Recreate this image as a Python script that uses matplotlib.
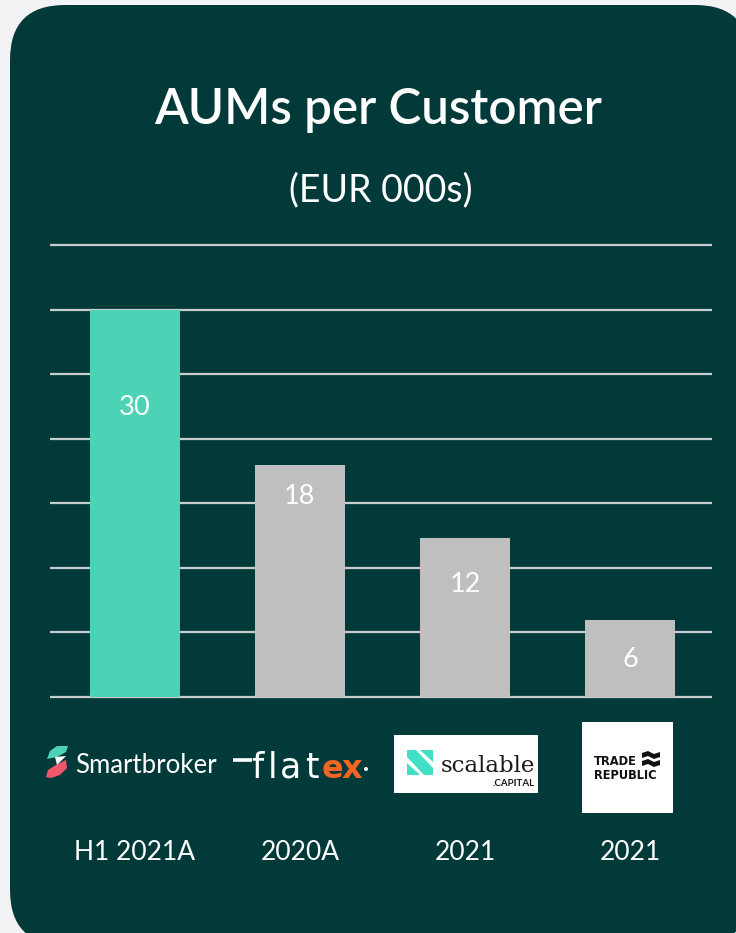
import matplotlib
matplotlib.use("Agg")
import matplotlib.pyplot as plt
from matplotlib.patches import FancyBboxPatch, Polygon, Rectangle, Circle

# ---- data ----
brokers = ["Smartbroker", "flatex", "Scalable Capital", "Trade Republic"]
periods = ["H1 2021A", "2020A", "2021", "2021"]
aum_per_customer = [30, 18, 12.3, 6]
value_labels = ["30", "18", "12", "6"]
grid_ticks = [0, 5, 10, 15, 20, 25, 30, 35]

# ---- style ----
BG_OUT = "#f3f3f5"
BG = "#023a3a"
TEAL = "#4cd3b5"
GREY = "#bfbfbf"
GRID = "#c9cccc"
bar_colors = [TEAL, GREY, GREY, GREY]
label_offsets_px = [98, 32, 46, 40]
FONT = "Lato"

W, H = 736, 933
fig = plt.figure(figsize=(W / 100, H / 100), dpi=100, facecolor=BG_OUT)

# background / decoration axes in pixel coordinates
bg = fig.add_axes([0, 0, 1, 1], zorder=0)
bg.set_xlim(0, W)
bg.set_ylim(H, 0)
bg.axis("off")
bg.add_patch(FancyBboxPatch((10, 5), 740, 940,
                            boxstyle="round,pad=0,rounding_size=55",
                            facecolor=BG, edgecolor="none"))

bg.text(378, 124, "AUMs per Customer", ha="center", va="baseline",
        fontsize=35.5, color="white", family=FONT, weight="semibold")
bg.text(381, 201, "(EUR 000s)", ha="center", va="baseline",
        fontsize=27, color="white", family=FONT, weight="normal")

# chart axes
left, right, top, bottom = 50, 712, 245, 697
ax = fig.add_axes([left / W, 1 - bottom / H, (right - left) / W, (bottom - top) / H],
                  zorder=1)
ax.patch.set_alpha(0)
x = list(range(len(aum_per_customer)))
ax.set_xlim(-0.515, 3.497)
ax.set_ylim(0, 35)
ax.hlines(grid_ticks, -0.515, 3.497, colors=GRID, linewidth=1.6, zorder=1,
          clip_on=False)
ax.bar(x, aum_per_customer, width=0.545, color=bar_colors, zorder=2)
for xi, v, lab, off in zip(x, aum_per_customer, value_labels, label_offsets_px):
    ax.annotate(lab, (xi, v), xytext=(0, -off), textcoords="offset pixels",
                ha="center", va="center", color="white", fontsize=19.5,
                family=FONT, zorder=3)
for xi, p in zip(x, periods):
    ax.annotate(p, xy=(xi, H - 852), xycoords=("data", "figure pixels"),
                ha="center", va="center", color="white", fontsize=19,
                family=FONT, annotation_clip=False)
ax.axis("off")

# ---- logos (decorative) ----
# Smartbroker
bg.add_patch(Polygon([(47, 759), (50, 751), (57, 746), (68, 746), (66, 752), (57, 757)],
                     closed=True, facecolor="#4cd3b5", edgecolor="none"))
bg.add_patch(Polygon([(46, 777), (48, 770), (56, 765), (66, 760), (67, 768), (60, 775), (51, 778)],
                     closed=True, facecolor="#f2566b", edgecolor="none"))
bg.add_patch(Polygon([(55, 757), (66, 756), (57, 765)], closed=True,
                     facecolor="white", edgecolor="none"))
bg.text(75, 773, brokers[0], ha="left", va="baseline", color="white",
        fontsize=18.5, family=FONT, weight="normal")

# flatex
bg.plot([233, 252], [760, 760], color="white", linewidth=2.6,
        solid_capstyle="butt")
for ch, cx in zip("flat", [257, 273, 291, 312]):
    bg.text(cx, 778, ch, ha="center", va="baseline", color="white",
            fontsize=25, family="DejaVu Sans", weight="normal")
for ch, cx in zip("ex", [332, 352]):
    bg.text(cx, 778, ch, ha="center", va="baseline", color="#f26522",
            fontsize=23, family="DejaVu Sans", weight="bold")
bg.add_patch(Circle((366, 769), 2.0, facecolor="white", edgecolor="none"))

# Scalable Capital
bg.add_patch(Rectangle((394, 735), 144, 58, facecolor="white", edgecolor="none"))
bg.add_patch(Polygon([(407, 750), (416, 750), (433, 768), (433, 775), (424, 775), (407, 757)],
                     closed=True, facecolor="#3fe0c5", edgecolor="none"))
bg.add_patch(Polygon([(420, 750), (433, 750), (433, 762)], closed=True,
                     facecolor="#3fe0c5", edgecolor="none"))
bg.add_patch(Polygon([(407, 763), (407, 775), (420, 775)], closed=True,
                     facecolor="#3fe0c5", edgecolor="none"))
bg.text(488, 766, "scalable", ha="center", va="center", color="#1a1a1a",
        fontsize=16.5, family="DejaVu Serif")
bg.text(535, 784, ".CAPITAL", ha="right", va="center", color="#1a1a1a",
        fontsize=7, family=FONT, weight="bold")

# Trade Republic
bg.add_patch(Rectangle((582, 722), 91, 91, facecolor="white", edgecolor="none"))
bg.text(594, 765, "TRADE", ha="left", va="baseline", color="#111111",
        fontsize=8.3, family="DejaVu Sans", weight="bold")
bg.text(594, 779, "REPUBLIC", ha="left", va="baseline", color="#111111",
        fontsize=8.3, family="DejaVu Sans", weight="bold")
bg.add_patch(Polygon([(642, 753), (648, 751), (654, 754), (660, 752), (660, 757),
                      (654, 759), (648, 756), (642, 758)], closed=True,
                     facecolor="#111111", edgecolor="none"))
bg.add_patch(Polygon([(642, 761), (648, 759), (654, 762), (660, 760), (660, 765),
                      (654, 767), (648, 764), (642, 766)], closed=True,
                     facecolor="#111111", edgecolor="none"))

fig.savefig("out.png", dpi=100, facecolor=BG_OUT)
